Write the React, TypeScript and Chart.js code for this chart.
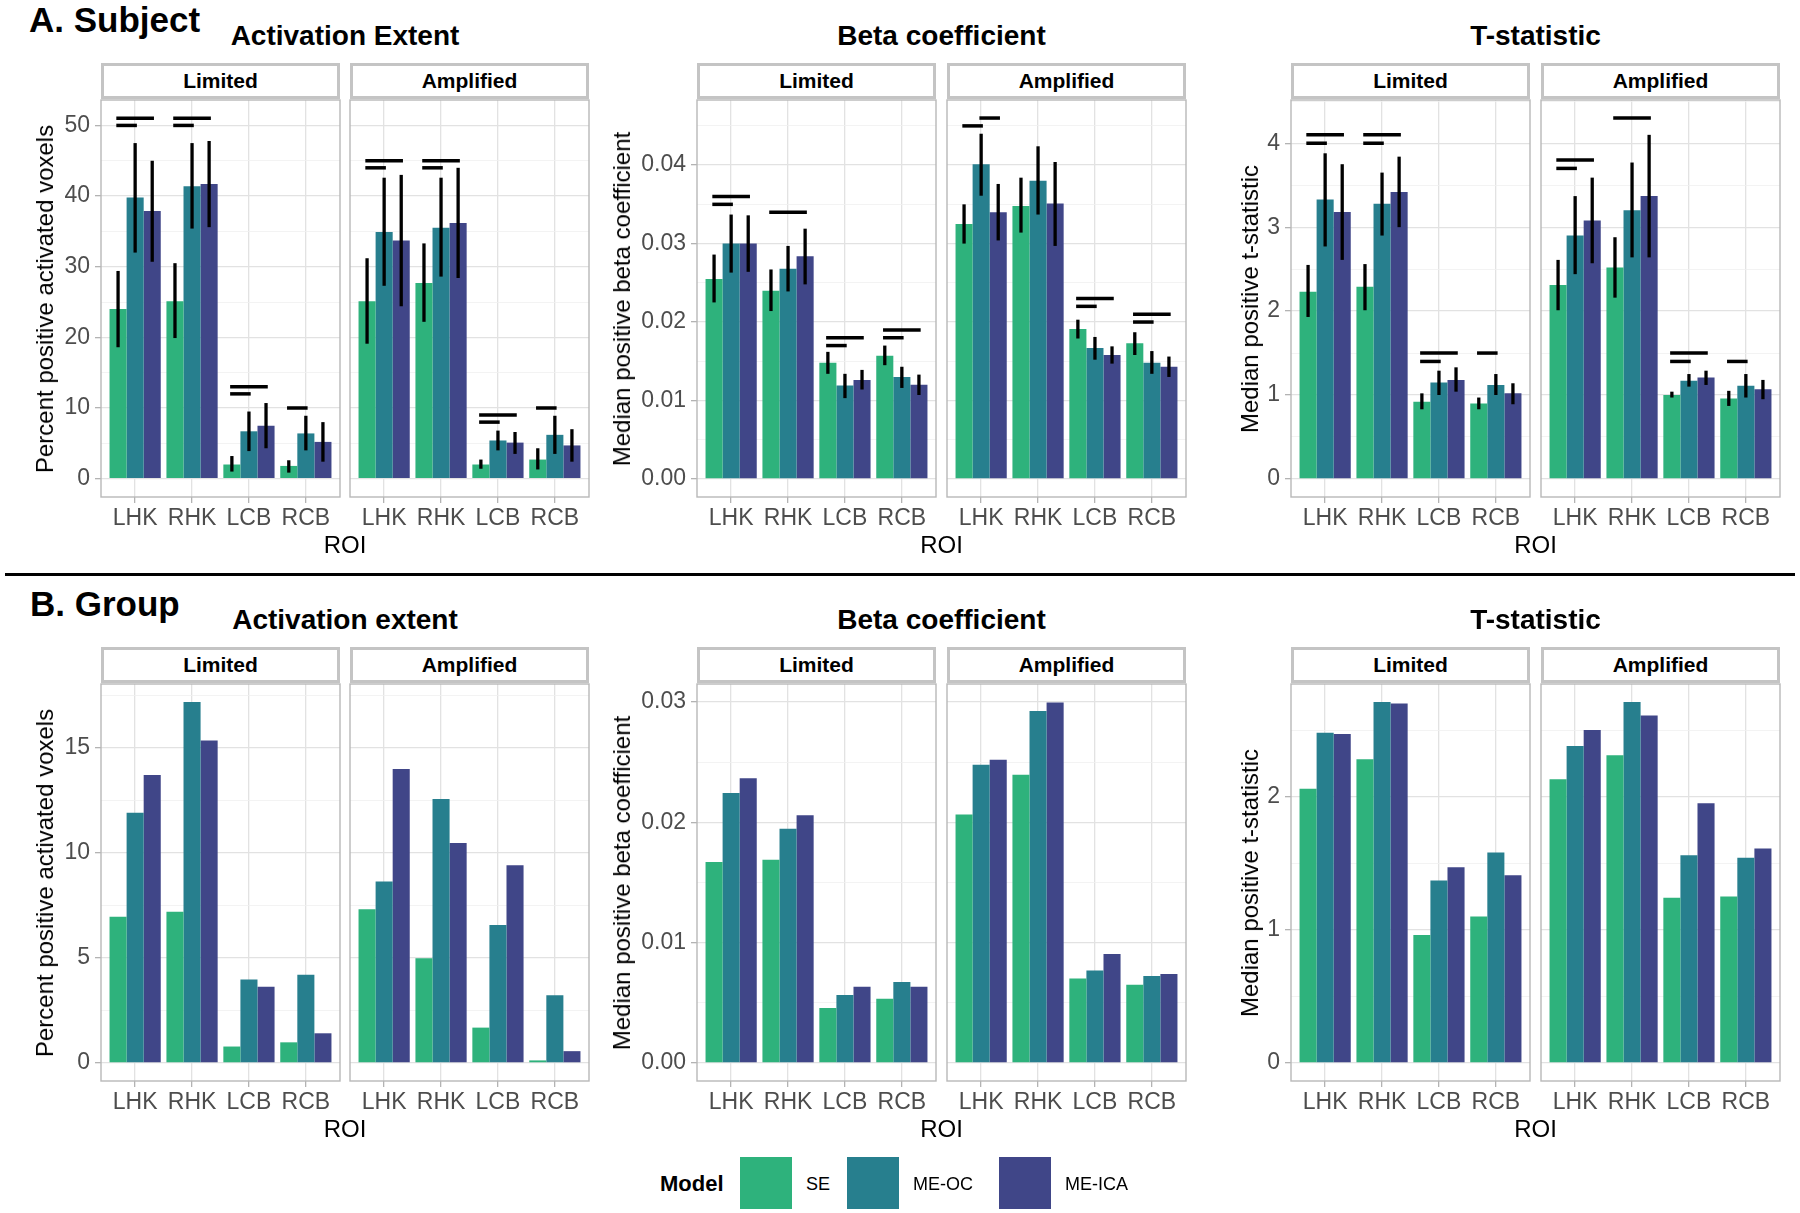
import React, { useEffect, useRef } from 'react';
import { Chart, registerables } from 'chart.js';
Chart.register(...registerables);

// ---------- data ----------
const ROI = ['LHK', 'RHK', 'LCB', 'RCB'];
const MODELS = ['SE', 'ME-OC', 'ME-ICA'];
const COLORS = ['#2EB27C', '#277F8E', '#404688'];

// Subject level (rows: SE, ME-OC, ME-ICA; columns: LHK, RHK, LCB, RCB)
const SUBJ_ACT_LIMITED = [[24.0, 25.1, 2.0, 1.8], [39.8, 41.4, 6.7, 6.4], [37.9, 41.7, 7.5, 5.2]];
const SUBJ_ACT_LIMITED_LO = [[18.6, 19.9, 1.0, 0.85], [32.0, 35.4, 3.9, 4.0], [30.7, 35.6, 4.3, 2.4]];
const SUBJ_ACT_LIMITED_HI = [[29.4, 30.5, 3.2, 2.6], [47.5, 47.5, 9.5, 8.9], [45.0, 47.8, 10.7, 8.0]];
const SUBJ_ACT_LIMITED_SIG = [[0, 0, 1, 50], [0, 0, 2, 51], [1, 0, 1, 50], [1, 0, 2, 51], [2, 0, 1, 12], [2, 0, 2, 13], [3, 0, 1, 10]];

const SUBJ_ACT_AMPLIFIED = [[25.1, 27.7, 2.0, 2.7], [34.9, 35.5, 5.4, 6.2], [33.7, 36.2, 5.1, 4.7]];
const SUBJ_ACT_AMPLIFIED_LO = [[19.1, 22.2, 1.4, 1.3], [27.3, 28.6, 4.0, 3.5], [24.4, 28.4, 3.5, 2.4]];
const SUBJ_ACT_AMPLIFIED_HI = [[31.2, 33.3, 2.7, 4.3], [42.6, 42.6, 6.8, 8.9], [43.0, 44.0, 6.6, 7.0]];
const SUBJ_ACT_AMPLIFIED_SIG = [[0, 0, 1, 44], [0, 0, 2, 45], [1, 0, 1, 44], [1, 0, 2, 45], [2, 0, 1, 8], [2, 0, 2, 9], [3, 0, 1, 10]];

const SUBJ_BETA_LIMITED = [[0.0255, 0.0240, 0.0148, 0.0157], [0.0300, 0.0268, 0.0119, 0.0130], [0.0300, 0.0284, 0.0126, 0.0120]];
const SUBJ_BETA_LIMITED_LO = [[0.0225, 0.0214, 0.0134, 0.0145], [0.0263, 0.0239, 0.0103, 0.0116], [0.0264, 0.0248, 0.0114, 0.0107]];
const SUBJ_BETA_LIMITED_HI = [[0.0286, 0.0267, 0.0162, 0.0170], [0.0337, 0.0297, 0.0134, 0.0143], [0.0336, 0.0319, 0.0139, 0.0133]];
const SUBJ_BETA_LIMITED_SIG = [[0, 0, 1, 0.035], [0, 0, 2, 0.036], [1, 0, 2, 0.034], [2, 0, 1, 0.017], [2, 0, 2, 0.018], [3, 0, 1, 0.018], [3, 0, 2, 0.019]];

const SUBJ_BETA_AMPLIFIED = [[0.0325, 0.0348, 0.0191, 0.0173], [0.0401, 0.0380, 0.0167, 0.0148], [0.0340, 0.0351, 0.0158, 0.0143]];
const SUBJ_BETA_AMPLIFIED_LO = [[0.0300, 0.0314, 0.0179, 0.0158], [0.0361, 0.0337, 0.0152, 0.0134], [0.0304, 0.0297, 0.0147, 0.0130]];
const SUBJ_BETA_AMPLIFIED_HI = [[0.0350, 0.0384, 0.0203, 0.0187], [0.0440, 0.0424, 0.0181, 0.0163], [0.0376, 0.0404, 0.0169, 0.0156]];
const SUBJ_BETA_AMPLIFIED_SIG = [[0, 0, 1, 0.045], [0, 1, 2, 0.046], [2, 0, 1, 0.022], [2, 0, 2, 0.023], [3, 0, 1, 0.020], [3, 0, 2, 0.021]];

const SUBJ_T_LIMITED = [[2.23, 2.29, 0.92, 0.90], [3.33, 3.28, 1.15, 1.12], [3.18, 3.42, 1.18, 1.02]];
const SUBJ_T_LIMITED_LO = [[1.93, 2.01, 0.83, 0.83], [2.77, 2.90, 1.00, 1.00], [2.61, 3.00, 1.04, 0.89]];
const SUBJ_T_LIMITED_HI = [[2.55, 2.56, 1.02, 0.97], [3.88, 3.65, 1.29, 1.25], [3.75, 3.84, 1.33, 1.14]];
const SUBJ_T_LIMITED_SIG = [[0, 0, 1, 4.0], [0, 0, 2, 4.1], [1, 0, 1, 4.0], [1, 0, 2, 4.1], [2, 0, 1, 1.4], [2, 0, 2, 1.5], [3, 0, 1, 1.5]];

const SUBJ_T_AMPLIFIED = [[2.31, 2.52, 1.00, 0.96], [2.90, 3.20, 1.17, 1.11], [3.08, 3.37, 1.21, 1.07]];
const SUBJ_T_AMPLIFIED_LO = [[2.01, 2.16, 0.97, 0.87], [2.44, 2.64, 1.10, 0.97], [2.57, 2.64, 1.12, 0.95]];
const SUBJ_T_AMPLIFIED_HI = [[2.61, 2.88, 1.04, 1.05], [3.37, 3.77, 1.25, 1.25], [3.59, 4.10, 1.29, 1.18]];
const SUBJ_T_AMPLIFIED_SIG = [[0, 0, 1, 3.7], [0, 0, 2, 3.8], [1, 0, 2, 4.3], [2, 0, 1, 1.4], [2, 0, 2, 1.5], [3, 0, 1, 1.4]];

// Group level
const GROUP_ACT_LIMITED = [[6.95, 7.19, 0.78, 0.98], [11.9, 17.17, 3.97, 4.20], [13.7, 15.34, 3.63, 1.41]];
const GROUP_ACT_AMPLIFIED = [[7.31, 4.98, 1.68, 0.12], [8.63, 12.56, 6.56, 3.22], [13.98, 10.46, 9.41, 0.56]];
const GROUP_BETA_LIMITED = [[0.0167, 0.0169, 0.00456, 0.00533], [0.02243, 0.01947, 0.00565, 0.00672], [0.02367, 0.02059, 0.00633, 0.00633]];
const GROUP_BETA_AMPLIFIED = [[0.02065, 0.02396, 0.00701, 0.00651], [0.02479, 0.02926, 0.00769, 0.00722], [0.02521, 0.02997, 0.00905, 0.0074]];
const GROUP_T_LIMITED = [[2.06, 2.28, 0.96, 1.10], [2.48, 2.71, 1.37, 1.58], [2.47, 2.70, 1.47, 1.41]];
const GROUP_T_AMPLIFIED = [[2.13, 2.31, 1.24, 1.25], [2.38, 2.71, 1.56, 1.54], [2.50, 2.61, 1.95, 1.61]];

// tick labels
const SUBJ_ACT_TICKS = [0, 10, 20, 30, 40, 50];
const SUBJ_ACT_MINOR = [5, 15, 25, 35, 45];
const SUBJ_BETA_TICKS = [0, 0.01, 0.02, 0.03, 0.04];
const SUBJ_BETA_MINOR = [0.005, 0.015, 0.025, 0.035, 0.045];
const SUBJ_T_TICKS = [0, 1, 2, 3, 4];
const SUBJ_T_MINOR = [0.5, 1.5, 2.5, 3.5, 4.5];
const GROUP_ACT_TICKS = [0, 5, 10, 15];
const GROUP_ACT_MINOR = [2.5, 7.5, 12.5, 17.5];
const GROUP_BETA_TICKS = [0, 0.01, 0.02, 0.03];
const GROUP_BETA_MINOR = [0.005, 0.015, 0.025];
const GROUP_T_TICKS = [0, 1, 2];
const GROUP_T_MINOR = [0.5, 1.5, 2.5];

// ---------- style / layout ----------
const FONT = "'Liberation Sans', Arial, Helvetica, sans-serif";
const ROW_OFFSET = [0, 584];
const STRIP_TOP = 63;
const STRIP_H = 36;
const PLOT_TOP = 100;
const PLOT_H = 397;
const PLOT_W = 239;
const COL_LEFT = [[101, 350], [697, 947], [1291, 1541]];
const YTITLE_X = [45, 622, 1250];

type FacetProps = {
  left: number; top: number; showY: boolean;
  values: number[][]; lo?: number[][]; hi?: number[][]; sig?: number[][];
  yMin: number; yMax: number; major: number[]; minor: number[]; decimals: number;
};

const zeroPad = (s: any) => {
  s.paddingTop = 0;
  s.paddingBottom = 0;
  s.paddingLeft = 0;
  s.paddingRight = 0;
};

function Facet(p: FacetProps) {
  const ref = useRef<HTMLCanvasElement>(null);
  const padL = 2, padR = 3, padT = 3;
  const yAxisW = p.showY ? 80 : 0;
  const xAxisH = 44;
  const cw = padL + yAxisW + PLOT_W + padR;
  const ch = padT + PLOT_H + xAxisH;

  useEffect(() => {
    const isMajor = (v: number) => p.major.some((m) => Math.abs(m - v) < 1e-9);
    const allTicks = [...p.major, ...p.minor].filter((v) => v >= p.yMin && v <= p.yMax).sort((a, b) => a - b);
    const extras = {
      id: 'extras',
      afterDatasetsDraw(chart: any) {
        const ctx = chart.ctx;
        const ys = chart.scales.y;
        const a = chart.chartArea;
        ctx.save();
        ctx.strokeStyle = '#000';
        ctx.lineWidth = 3.3;
        ctx.lineCap = 'butt';
        if (p.lo && p.hi) {
          for (let k = 0; k < MODELS.length; k++) {
            const meta = chart.getDatasetMeta(k);
            for (let i = 0; i < ROI.length; i++) {
              const x = meta.data[i].x;
              ctx.beginPath();
              ctx.moveTo(x, ys.getPixelForValue(p.lo[k][i]));
              ctx.lineTo(x, ys.getPixelForValue(p.hi[k][i]));
              ctx.stroke();
            }
          }
        }
        if (p.sig) {
          ctx.lineCap = 'square';
          ctx.lineWidth = 3.5;
          for (const s of p.sig) {
            const x1 = chart.getDatasetMeta(s[1]).data[s[0]].x;
            const x2 = chart.getDatasetMeta(s[2]).data[s[0]].x;
            const y = ys.getPixelForValue(s[3]);
            ctx.beginPath();
            ctx.moveTo(x1, y);
            ctx.lineTo(x2, y);
            ctx.stroke();
          }
        }
        ctx.lineCap = 'butt';
        ctx.strokeStyle = '#B8B8B8';
        ctx.lineWidth = 1.4;
        ctx.strokeRect(a.left, a.top, a.right - a.left, a.bottom - a.top);
        ctx.restore();
      },
    };
    const chart = new Chart(ref.current as HTMLCanvasElement, {
      type: 'bar',
      data: {
        datasets: MODELS.map((m, k) => ({
          label: m,
          data: p.values[k].map((v, i) => ({ x: i, y: v })),
          backgroundColor: COLORS[k],
          borderWidth: 0,
          categoryPercentage: 0.9,
          barPercentage: 1,
        })),
      },
      options: {
        responsive: false,
        animation: false,
        devicePixelRatio: 1,
        layout: { padding: { left: padL, right: padR, top: padT, bottom: 0 } },
        plugins: { legend: { display: false }, tooltip: { enabled: false } },
        scales: {
          x: {
            type: 'linear',
            min: -0.6,
            max: 3.6,
            offset: false,
            afterBuildTicks: (s: any) => { s.ticks = ROI.map((_, i) => ({ value: i })); },
            afterFit: (s: any) => { s.height = xAxisH; zeroPad(s); },
            ticks: {
              autoSkip: false,
              maxRotation: 0,
              padding: 2,
              color: '#4D4D4D',
              font: { family: FONT, size: 23 },
              callback: (v: any) => ROI[Math.round(Number(v))] ?? '',
            },
            grid: { color: '#E2E2E2', lineWidth: 1.3, tickLength: 6, tickColor: '#B3B3B3', tickWidth: 1.3, offset: false },
            border: { display: false },
          },
          y: {
            type: 'linear',
            min: p.yMin,
            max: p.yMax,
            afterBuildTicks: (s: any) => { s.ticks = allTicks.map((v) => ({ value: v })); },
            afterFit: (s: any) => { s.width = yAxisW; zeroPad(s); },
            ticks: {
              display: p.showY,
              padding: 5,
              color: '#4D4D4D',
              font: { family: FONT, size: 23 },
              callback: (v: any) => (isMajor(Number(v)) ? Number(v).toFixed(p.decimals) : ''),
            },
            grid: {
              color: (c: any) => (isMajor(c.tick?.value) ? '#E2E2E2' : '#F0F0F0'),
              lineWidth: (c: any) => (isMajor(c.tick?.value) ? 1.3 : 0.8),
              drawTicks: p.showY,
              tickLength: 6,
              tickWidth: 1.3,
              tickColor: (c: any) => (isMajor(c.tick?.value) ? '#B3B3B3' : 'rgba(0,0,0,0)'),
            },
            border: { display: false },
          },
        },
      } as any,
      plugins: [extras],
    });
    return () => chart.destroy();
  }, []);

  return (
    <canvas
      ref={ref}
      width={cw}
      height={ch}
      style={{ position: 'absolute', left: p.left - padL - yAxisW, top: p.top - padT, width: cw, height: ch }}
    />
  );
}

function Strip({ left, top, label }: { left: number; top: number; label: string }) {
  return (
    <div
      style={{
        position: 'absolute', left, top, width: PLOT_W, height: STRIP_H, boxSizing: 'border-box',
        border: '3px solid #C4C4C4', background: '#fff', display: 'flex', alignItems: 'center',
        justifyContent: 'center', fontFamily: FONT, fontWeight: 'bold', fontSize: 21, color: '#000',
      }}
    >
      {label}
    </div>
  );
}

type MetricDef = {
  title: string; ytitle: string; col: number;
  lim: number[][]; amp: number[][];
  limLo?: number[][]; limHi?: number[][]; limSig?: number[][];
  ampLo?: number[][]; ampHi?: number[][]; ampSig?: number[][];
  yMin: number; yMax: number; major: number[]; minor: number[]; decimals: number;
};

function MetricBlock({ m, row }: { m: MetricDef; row: number }) {
  const off = ROW_OFFSET[row];
  const [l1, l2] = COL_LEFT[m.col];
  const cx = (l1 + l2 + PLOT_W) / 2;
  const common = { yMin: m.yMin, yMax: m.yMax, major: m.major, minor: m.minor, decimals: m.decimals };
  return (
    <>
      <div style={{ position: 'absolute', left: cx, top: 36 + off, transform: 'translate(-50%,-50%)', whiteSpace: 'nowrap', fontFamily: FONT, fontWeight: 'bold', fontSize: 28, color: '#000' }}>
        {m.title}
      </div>
      <Strip left={l1} top={STRIP_TOP + off} label="Limited" />
      <Strip left={l2} top={STRIP_TOP + off} label="Amplified" />
      <Facet left={l1} top={PLOT_TOP + off} showY={true} values={m.lim} lo={m.limLo} hi={m.limHi} sig={m.limSig} {...common} />
      <Facet left={l2} top={PLOT_TOP + off} showY={false} values={m.amp} lo={m.ampLo} hi={m.ampHi} sig={m.ampSig} {...common} />
      <div style={{ position: 'absolute', left: YTITLE_X[m.col], top: PLOT_TOP + off + PLOT_H / 2, transform: 'translate(-50%,-50%) rotate(-90deg)', whiteSpace: 'nowrap', fontFamily: FONT, fontSize: 24, color: '#000' }}>
        {m.ytitle}
      </div>
      <div style={{ position: 'absolute', left: cx, top: 545 + off, transform: 'translate(-50%,-50%)', whiteSpace: 'nowrap', fontFamily: FONT, fontSize: 24, color: '#000' }}>
        ROI
      </div>
    </>
  );
}

const SUBJECT_METRICS: MetricDef[] = [
  { title: 'Activation Extent', ytitle: 'Percent positive activated voxels', col: 0, lim: SUBJ_ACT_LIMITED, amp: SUBJ_ACT_AMPLIFIED,
    limLo: SUBJ_ACT_LIMITED_LO, limHi: SUBJ_ACT_LIMITED_HI, limSig: SUBJ_ACT_LIMITED_SIG,
    ampLo: SUBJ_ACT_AMPLIFIED_LO, ampHi: SUBJ_ACT_AMPLIFIED_HI, ampSig: SUBJ_ACT_AMPLIFIED_SIG,
    yMin: -2.6, yMax: 53.6, major: SUBJ_ACT_TICKS, minor: SUBJ_ACT_MINOR, decimals: 0 },
  { title: 'Beta coefficient', ytitle: 'Median positive beta coefficient', col: 1, lim: SUBJ_BETA_LIMITED, amp: SUBJ_BETA_AMPLIFIED,
    limLo: SUBJ_BETA_LIMITED_LO, limHi: SUBJ_BETA_LIMITED_HI, limSig: SUBJ_BETA_LIMITED_SIG,
    ampLo: SUBJ_BETA_AMPLIFIED_LO, ampHi: SUBJ_BETA_AMPLIFIED_HI, ampSig: SUBJ_BETA_AMPLIFIED_SIG,
    yMin: -0.0023, yMax: 0.0483, major: SUBJ_BETA_TICKS, minor: SUBJ_BETA_MINOR, decimals: 2 },
  { title: 'T-statistic', ytitle: 'Median positive t-statistic', col: 2, lim: SUBJ_T_LIMITED, amp: SUBJ_T_AMPLIFIED,
    limLo: SUBJ_T_LIMITED_LO, limHi: SUBJ_T_LIMITED_HI, limSig: SUBJ_T_LIMITED_SIG,
    ampLo: SUBJ_T_AMPLIFIED_LO, ampHi: SUBJ_T_AMPLIFIED_HI, ampSig: SUBJ_T_AMPLIFIED_SIG,
    yMin: -0.215, yMax: 4.515, major: SUBJ_T_TICKS, minor: SUBJ_T_MINOR, decimals: 0 },
];

const GROUP_METRICS: MetricDef[] = [
  { title: 'Activation extent', ytitle: 'Percent positive activated voxels', col: 0, lim: GROUP_ACT_LIMITED, amp: GROUP_ACT_AMPLIFIED,
    yMin: -0.86, yMax: 18.03, major: GROUP_ACT_TICKS, minor: GROUP_ACT_MINOR, decimals: 0 },
  { title: 'Beta coefficient', ytitle: 'Median positive beta coefficient', col: 1, lim: GROUP_BETA_LIMITED, amp: GROUP_BETA_AMPLIFIED,
    yMin: -0.0015, yMax: 0.0315, major: GROUP_BETA_TICKS, minor: GROUP_BETA_MINOR, decimals: 2 },
  { title: 'T-statistic', ytitle: 'Median positive t-statistic', col: 2, lim: GROUP_T_LIMITED, amp: GROUP_T_AMPLIFIED,
    yMin: -0.136, yMax: 2.846, major: GROUP_T_TICKS, minor: GROUP_T_MINOR, decimals: 0 },
];

const LEGEND_BOX_X = [740, 847, 999];
const LEGEND_TEXT_X = [806, 913, 1065];

export default function App() {
  return (
    <div style={{ position: 'absolute', left: 0, top: 0, width: 1800, height: 1213, background: '#fff', overflow: 'hidden' }}>
      <div style={{ position: 'absolute', left: 29, top: 0, fontFamily: FONT, fontWeight: 'bold', fontSize: 35, lineHeight: '40px', color: '#000' }}>A. Subject</div>
      <div style={{ position: 'absolute', left: 30, top: 584, fontFamily: FONT, fontWeight: 'bold', fontSize: 35, lineHeight: '40px', color: '#000' }}>B. Group</div>
      <div style={{ position: 'absolute', left: 5, top: 573, width: 1790, height: 3, background: '#000' }} />
      {SUBJECT_METRICS.map((m) => <MetricBlock key={'s' + m.col} m={m} row={0} />)}
      {GROUP_METRICS.map((m) => <MetricBlock key={'g' + m.col} m={m} row={1} />)}
      <div style={{ position: 'absolute', left: 660, top: 1184, transform: 'translateY(-50%)', fontFamily: FONT, fontWeight: 'bold', fontSize: 22, color: '#000' }}>Model</div>
      {MODELS.map((name, k) => (
        <React.Fragment key={name}>
          <div style={{ position: 'absolute', left: LEGEND_BOX_X[k], top: 1157, width: 52, height: 52, background: COLORS[k] }} />
          <div style={{ position: 'absolute', left: LEGEND_TEXT_X[k], top: 1184, transform: 'translateY(-50%)', fontFamily: FONT, fontSize: 18, color: '#000' }}>{name}</div>
        </React.Fragment>
      ))}
    </div>
  );
}
